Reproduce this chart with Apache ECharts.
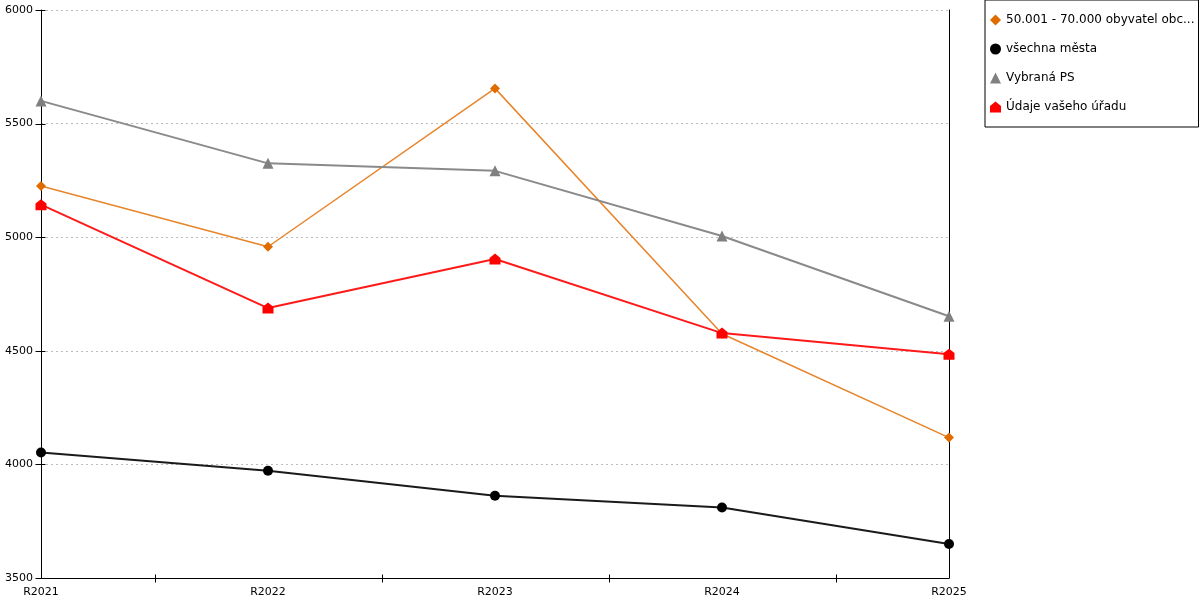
<!DOCTYPE html>
<html>
<head>
<meta charset="utf-8">
<style>
	html, body { margin: 0; padding: 0; background: #fff; }
	#chart { width: 1200px; height: 600px; }
</style>
<script src="https://cdn.jsdelivr.net/npm/echarts@6/dist/echarts.min.js"></script>
</head>
<body>
<div id="chart"></div>
<script>
var years = ['R2021', 'R2022', 'R2023', 'R2024', 'R2025'];		// kategorie osy x
var yTicks = [3500, 6000, 500];									// min, max, krok osy y

var names = ['50.001 - 70.000 obyvatel obc...', 'všechna města', 'Vybraná PS', 'Údaje vašeho úřadu'];
var velikostObce = [5225, 4958, 5655, 4575, 4118];
var vsechnaMesta = [4052, 3972, 3862, 3810, 3650];
var vybranaPS = [5600, 5325, 5292, 5005, 4652];
var vasUrad = [5143, 4688, 4904, 4578, 4485];

var house = 'path://M0,4 L5,0 L10,4 L10,10 L0,10 Z';
var font = 'DejaVu Sans';

function line(name, data, color, lineColor, width, symbol, size) {
	return {
		name: name,
		type: 'line',
		data: data,
		symbol: symbol,
		symbolSize: size,
		lineStyle: { color: lineColor, width: width },
		itemStyle: { color: color },
		emphasis: { disabled: true }
	};
}

var chart = echarts.init(document.getElementById('chart'));
chart.setOption({
	animation: false,
	textStyle: { fontFamily: font },
	grid: { left: 41, right: 251, top: 10, bottom: 22, containLabel: false },
	legend: {
		orient: 'vertical',
		left: 985,
		top: 0,
		padding: [14, 4, 14, 5],
		itemGap: 17,
		itemWidth: 11,
		itemHeight: 11,
		borderColor: '#000',
		borderWidth: 1,
		borderRadius: 0,
		textStyle: { fontFamily: font, fontSize: 12, color: '#000' },
		data: [
			{ name: names[0], icon: 'diamond' },
			{ name: names[1], icon: 'circle' },
			{ name: names[2], icon: 'triangle' },
			{ name: names[3], icon: house }
		]
	},
	xAxis: {
		type: 'category',
		data: years,
		boundaryGap: false,
		axisLine: { lineStyle: { color: '#000', width: 1 } },
		axisTick: { show: false },
		axisLabel: { color: '#000', fontSize: 11, margin: 9, fontFamily: font },
		splitLine: { show: false }
	},
	yAxis: [
		{
			type: 'value',
			min: yTicks[0],
			max: yTicks[1],
			interval: yTicks[2],
			axisLine: { show: true, lineStyle: { color: '#000', width: 1 } },
			axisTick: { show: false },
			axisLabel: { color: '#000', fontSize: 11, margin: 8, fontFamily: font, formatter: function (v) { return String(v); } },
			splitLine: { show: true, lineStyle: { color: '#bdbdbd', type: [2, 3], width: 1 } }
		},
		{
			type: 'value',
			position: 'right',
			min: yTicks[0],
			max: yTicks[1],
			interval: yTicks[2],
			axisLine: { show: true, lineStyle: { color: '#000', width: 1 } },
			axisTick: { show: false },
			axisLabel: { show: false },
			splitLine: { show: false }
		}
	],
	series: [
		line(names[0], velikostObce, '#e06c00', '#e8842a', 1.5, 'diamond', 10),
		line(names[1], vsechnaMesta, '#000', '#1a1a1a', 2, 'circle', 10),
		line(names[2], vybranaPS, '#808080', '#8a8a8a', 2, 'triangle', 11),
		line(names[3], vasUrad, '#ff0000', '#ff1a1a', 2, house, 11)
	]
});

// ticky krizem: na ose y u kazde hodnoty, na ose x mezi kategoriemi
var ticks = [];
var x0 = Math.round(chart.convertToPixel({ xAxisIndex: 0 }, years[0])) + 0.5;
var yBottom = Math.round(chart.convertToPixel({ yAxisIndex: 0 }, yTicks[0])) + 0.5;
for (var v = yTicks[0]; v <= yTicks[1]; v += yTicks[2]) {
	var py = Math.round(chart.convertToPixel({ yAxisIndex: 0 }, v)) + 0.5;
	ticks.push({ type: 'line', z: 10, shape: { x1: x0 - 6, y1: py, x2: x0 + 4, y2: py }, style: { stroke: '#000', lineWidth: 1 }, silent: true });
}
for (var i = 0; i < years.length - 1; i++) {
	var px = Math.round((chart.convertToPixel({ xAxisIndex: 0 }, years[i]) + chart.convertToPixel({ xAxisIndex: 0 }, years[i + 1])) / 2) + 0.5;
	ticks.push({ type: 'line', z: 10, shape: { x1: px, y1: yBottom - 4, x2: px, y2: yBottom + 4 }, style: { stroke: '#000', lineWidth: 1 }, silent: true });
}
chart.setOption({ graphic: ticks });
</script>
</body>
</html>
